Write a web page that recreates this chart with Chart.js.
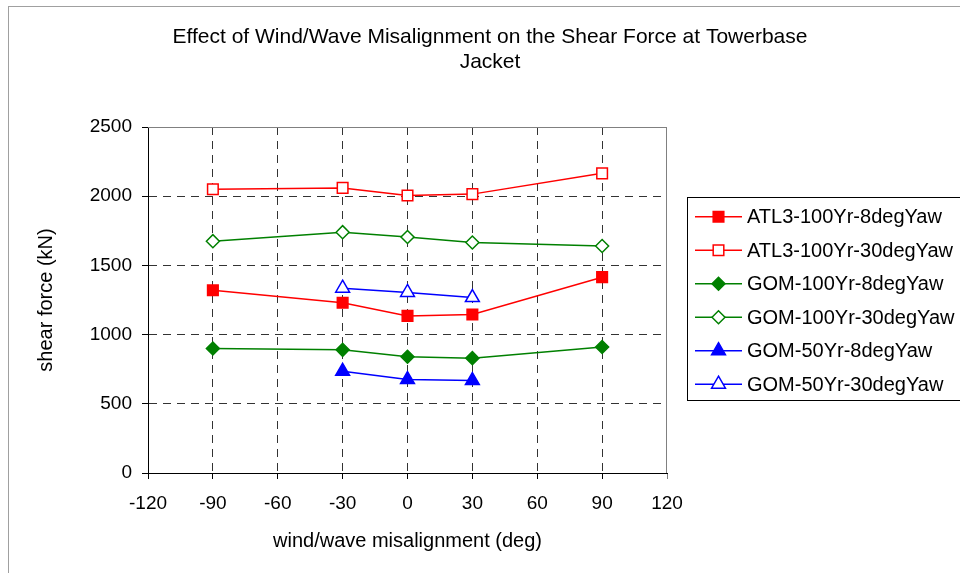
<!DOCTYPE html>
<html>
<head>
<meta charset="utf-8">
<script src="https://cdn.jsdelivr.net/npm/chart.js@4/dist/chart.umd.min.js"></script>
<style>
  html, body { margin: 0; padding: 0; background: #fff; }
  #wrap { position: relative; width: 960px; height: 573px; overflow: hidden; }
</style>
</head>
<body>
<div id="wrap"><canvas id="c" width="960" height="573"></canvas></div>
<script>
// ---- data ----
const titleLines = ['Effect of Wind/Wave Misalignment on the Shear Force at Towerbase', 'Jacket'];
const xTitle = 'wind/wave misalignment (deg)';
const yTitle = 'shear force (kN)';
const xFull = [-90, -30, 0, 30, 90];
const xGom50 = [-30, 0, 30];
const atl3_100_8 = [1320, 1230, 1135, 1145, 1415];
const atl3_100_30 = [2050, 2060, 2005, 2015, 2165];
const gom_100_8 = [900, 890, 840, 830, 910];
const gom_100_30 = [1675, 1740, 1705, 1665, 1640];
const gom_50_8 = [735, 675, 668];
const gom_50_30 = [1335, 1305, 1268];
const seriesNames = ['ATL3-100Yr-8degYaw', 'ATL3-100Yr-30degYaw', 'GOM-100Yr-8degYaw',
                     'GOM-100Yr-30degYaw', 'GOM-50Yr-8degYaw', 'GOM-50Yr-30degYaw'];
const xMin = -120, xMax = 120, xStep = 30;
const yMin = 0, yMax = 2500, yStep = 500;

const FONT = '"Liberation Sans", Arial, sans-serif';
const pts = (xs, ys) => xs.map((x, i) => ({x: x, y: ys[i]}));

function ds(name, xs, ys, color, style, filled, radius) {
  return {
    label: name, data: pts(xs, ys), showLine: true,
    borderColor: color, borderWidth: 1.5,
    pointStyle: style, pointRadius: radius, pointHoverRadius: radius,
    pointBackgroundColor: filled ? color : '#ffffff',
    pointBorderColor: color, pointBorderWidth: 1.5,
  };
}

const datasets = [
  ds(seriesNames[0], xFull, atl3_100_8, '#ff0000', 'rect', true, 7.5),
  ds(seriesNames[1], xFull, atl3_100_30, '#ff0000', 'rect', false, 7.5),
  ds(seriesNames[2], xFull, gom_100_8, '#008000', 'rectRot', true, 6.5),
  ds(seriesNames[3], xFull, gom_100_30, '#008000', 'rectRot', false, 6.5),
  ds(seriesNames[4], xGom50, gom_50_8, '#0000ff', 'triangle', true, 8),
  ds(seriesNames[5], xGom50, gom_50_30, '#0000ff', 'triangle', false, 8),
];

const decor = {
  id: 'decor',
  beforeDraw(chart) {
    const ctx = chart.ctx;
    ctx.save();
    ctx.fillStyle = '#fff';
    ctx.fillRect(0, 0, chart.width, chart.height);
    ctx.strokeStyle = '#a0a0a0';
    ctx.lineWidth = 1;
    ctx.strokeRect(8.5, 6.5, 2000, 2000);
    ctx.restore();
  },
  beforeDatasetsDraw(chart) {
    const ctx = chart.ctx, a = chart.chartArea;
    ctx.save();
    ctx.strokeStyle = '#808080';
    ctx.lineWidth = 1;
    ctx.beginPath();
    ctx.moveTo(a.left, Math.round(a.top) + 0.5);
    ctx.lineTo(a.right, Math.round(a.top) + 0.5);
    ctx.moveTo(Math.round(a.right) - 0.5, a.top);
    ctx.lineTo(Math.round(a.right) - 0.5, a.bottom);
    ctx.stroke();
    ctx.restore();
  },
  afterDraw(chart) {
    const ctx = chart.ctx;
    ctx.save();
    // title
    ctx.fillStyle = '#000';
    ctx.font = '21px ' + FONT;
    ctx.textAlign = 'center';
    ctx.textBaseline = 'alphabetic';
    ctx.fillText(titleLines[0], 490, 42.5);
    ctx.fillText(titleLines[1], 490, 68);
    // legend
    ctx.strokeStyle = '#000';
    ctx.lineWidth = 1;
    ctx.strokeRect(687.5, 197.5, 400, 203);
    ctx.font = '20px ' + FONT;
    ctx.textAlign = 'left';
    ctx.textBaseline = 'middle';
    chart.data.datasets.forEach((d, i) => {
      const y = 216.7 + i * 33.5;
      ctx.strokeStyle = d.borderColor;
      ctx.lineWidth = d.borderWidth;
      ctx.beginPath();
      ctx.moveTo(695, y);
      ctx.lineTo(742, y);
      ctx.stroke();
      ctx.fillStyle = d.pointBackgroundColor;
      ctx.strokeStyle = d.pointBorderColor;
      ctx.lineWidth = d.pointBorderWidth;
      Chart.helpers.drawPoint(ctx, {pointStyle: d.pointStyle, radius: d.pointRadius, borderWidth: d.pointBorderWidth, rotation: 0}, 718.5, y);
      ctx.fillStyle = '#000';
      ctx.fillText(d.label, 747, y + 1);
    });
    ctx.restore();
  }
};

const edgeColor = (edges) => (c) => (c.tick && edges.includes(c.tick.value)) ? 'rgba(0,0,0,0)' : '#333';
const plain = (v) => String(v);

new Chart(document.getElementById('c'), {
  type: 'scatter',
  data: { datasets },
  options: {
    responsive: false, animation: false, devicePixelRatio: 1,
    layout: { padding: { left: 0, top: 127, right: 293, bottom: 0 } },
    plugins: { legend: { display: false }, title: { display: false }, tooltip: { enabled: false } },
    scales: {
      x: {
        type: 'linear', min: xMin, max: xMax,
        afterFit(s) { s.height = 100; },
        ticks: { stepSize: xStep, color: '#000', font: { family: FONT, size: 19 }, padding: 13, maxRotation: 0, callback: plain },
        grid: { color: edgeColor([xMin, xMax]), lineWidth: 1, tickLength: 6,
                tickColor: (c) => (c.tick && c.tick.value === xMax) ? '#808080' : '#000' },
        border: { display: true, color: '#000', width: 1, dash: [8, 6] },
        title: { display: true, text: xTitle, color: '#000', font: { family: FONT, size: 20 }, padding: { top: 0, bottom: 20 } }
      },
      y: {
        type: 'linear', min: yMin, max: yMax,
        afterFit(s) { s.width = 148; },
        ticks: { stepSize: yStep, color: '#000', font: { family: FONT, size: 19 }, padding: 10, callback: plain },
        grid: { color: edgeColor([yMin, yMax]), lineWidth: 1, tickLength: 6, tickColor: '#000' },
        border: { display: true, color: '#000', width: 1, dash: [8, 6] },
        title: { display: true, text: yTitle, color: '#000', font: { family: FONT, size: 20 }, padding: { top: 34, bottom: 0 } }
      }
    }
  },
  plugins: [decor]
});
</script>
</body>
</html>
